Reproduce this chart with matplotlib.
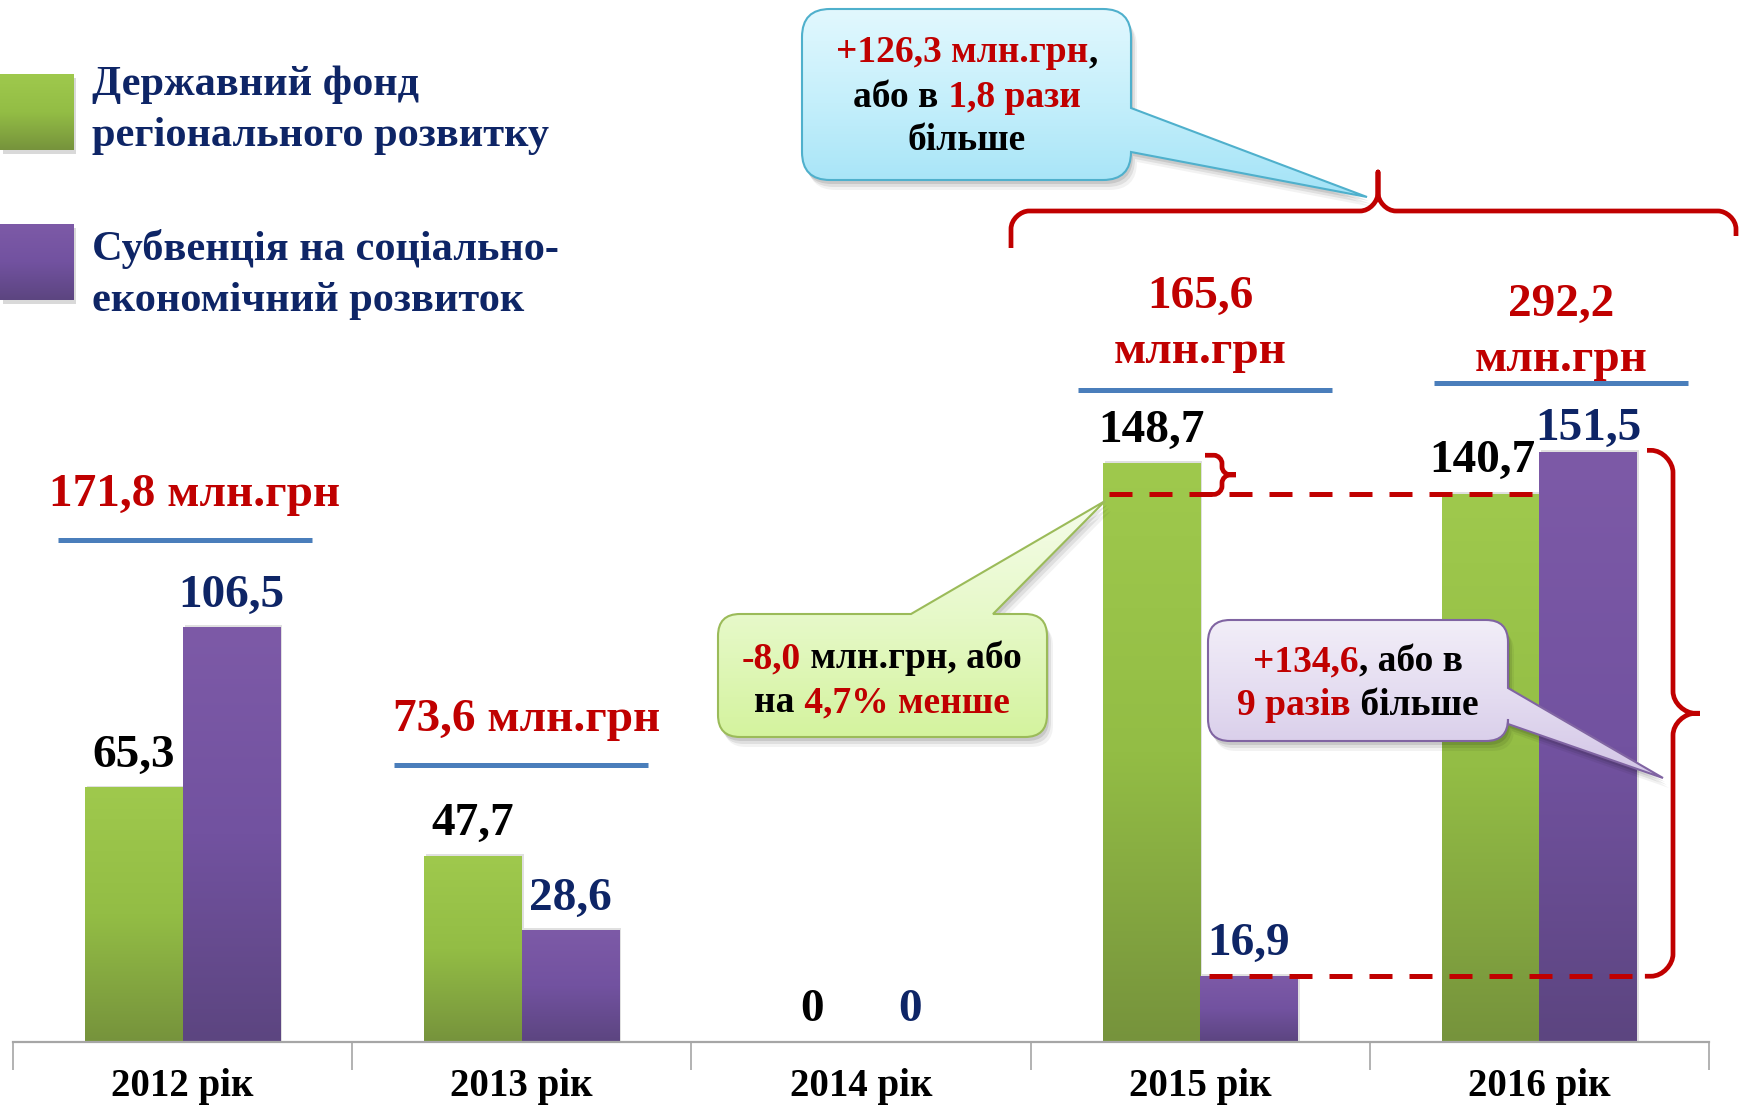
import numpy as np
import matplotlib
matplotlib.use('Agg')
import matplotlib.pyplot as plt
from matplotlib.path import Path
from matplotlib.patches import PathPatch, Rectangle
from matplotlib.colors import LinearSegmentedColormap
import matplotlib.transforms as mtransforms

# ---------------- data ----------------
years = ['2012 рік', '2013 рік', '2014 рік', '2015 рік', '2016 рік']
fund = [65.3, 47.7, 0.0, 148.7, 140.7]
subvention = [106.5, 28.6, 0.0, 16.9, 151.5]
fund_text = ['65,3', '47,7', '0', '148,7', '140,7']
subv_text = ['106,5', '28,6', '0', '16,9', '151,5']
totals_text = ['171,8 млн.грн', '73,6 млн.грн', '', '165,6\nмлн.грн', '292,2\nмлн.грн']
legend_text = ['Державний фонд\nрегіонального розвитку',
               'Субвенція на соціально-\nекономічний розвиток']
callout_top = [[('+126,3 млн.грн', 'r'), (',', 'k')],
               [('або в', 'k'), (' 1,8 рази', 'r')],
               [('більше', 'k')]]
callout_green = [[('-8,0', 'r'), (' млн.грн, або', 'k')],
                 [('на', 'k'), (' 4,7% менше', 'r')]]
callout_purple = [[('+134,6', 'r'), (', або в', 'k')],
                  [('9 разів', 'r'), (' більше', 'k')]]

# ---------------- style ----------------
SERIF = ['Liberation Serif', 'DejaVu Serif']
plt.rcParams['font.family'] = SERIF
plt.rcParams['font.weight'] = 'bold'
RED = '#c00000'
NAVY = '#0e2566'
BLUE_LINE = '#4a7ebb'
AXIS_GREY = '#a6a6a6'
COL = {'r': RED, 'k': '#000000', 'n': NAVY}

W, H = 1742, 1106
fig = plt.figure(figsize=(W / 100, H / 100), dpi=100)
fig.patch.set_facecolor('white')

PX_PER_UNIT = 3.892
ax = fig.add_axes([13 / W, (H - 1042) / H, 1696 / W, 1042 / H])

xpos = np.arange(len(years))
bw = 0.287
green_bars = ax.bar(xpos - bw / 2, fund, bw, color='none', zorder=2)
purple_bars = ax.bar(xpos + bw / 2, subvention, bw, color='none', zorder=2)

cm_green = LinearSegmentedColormap.from_list('g', ['#76933c', '#93bd45', '#9fc94d'])
cm_purple = LinearSegmentedColormap.from_list('p', ['#5c4580', '#7252a0', '#7d5aa7'])
grad = np.linspace(0, 1, 256).reshape(-1, 1)
for bars, cm in ((green_bars, cm_green), (purple_bars, cm_purple)):
    for rect in bars:
        h = rect.get_height()
        if h <= 0:
            continue
        x0 = rect.get_x()
        ax.add_patch(Rectangle((x0 + 0.006, 0), rect.get_width(), h + 0.6,
                               facecolor='#000000', alpha=0.12, zorder=1.5, lw=0))
        ax.imshow(grad, extent=(x0, x0 + rect.get_width(), 0, h), origin='lower',
                  aspect='auto', cmap=cm, zorder=2, interpolation='bilinear')

ax.set_xlim(-0.5, 4.5)
ax.set_ylim(0, 1042 / PX_PER_UNIT)

# value labels
fund_off = [(0, 21), (0, 21), (0, 21), (0, 21), (-8, 22)]
subv_off = [(0, 21), (0, 21), (0, 21), (0, 21), (0, 12)]
for i in range(len(years)):
    ax.annotate(fund_text[i], (xpos[i] - bw / 2, fund[i]), xytext=fund_off[i],
                textcoords='offset pixels', ha='center', va='baseline',
                fontsize=34, fontweight='bold', color='#000000', zorder=6)
    ax.annotate(subv_text[i], (xpos[i] + bw / 2, subvention[i]), xytext=subv_off[i],
                textcoords='offset pixels', ha='center', va='baseline',
                fontsize=34, fontweight='bold', color=NAVY, zorder=6)

# axis styling
for s in ('top', 'left', 'right'):
    ax.spines[s].set_visible(False)
ax.spines['bottom'].set_color(AXIS_GREY)
ax.spines['bottom'].set_linewidth(1.6)
ax.set_yticks([])
ax.set_xticks(xpos)
ax.set_xticklabels(years, fontsize=28, fontweight='bold', color='#000000')
ax.set_xticks(np.arange(-0.5, len(years), 1.0), minor=True)
ax.tick_params(axis='x', which='major', length=0, pad=19)
ax.tick_params(axis='x', which='minor', length=20, width=1.2, color=AXIS_GREY)
ax.patch.set_visible(False)

# dashed reference lines (data coordinates)
x_dash1_start = xpos[3] - bw + 0.017
x_dash1_end = xpos[4] + 0.016
x_dash2_start = xpos[3] + 0.025
x_dash2_end = xpos[4] + bw + 0.024
ax.plot([x_dash1_start, x_dash1_end], [fund[4], fund[4]], color=RED, lw=3.6,
        dashes=(4.6, 3.4), dash_capstyle='butt', zorder=5)
ax.plot([x_dash2_start, x_dash2_end], [subvention[3], subvention[3]], color=RED, lw=3.6,
        dashes=(4.6, 3.4), dash_capstyle='butt', zorder=5)


def to_px(xd, yd):
    d = ax.transData.transform((xd, yd))
    return d[0], H - d[1]


# ---------------- overlay in pixel coordinates ----------------
ax2 = fig.add_axes([0, 0, 1, 1], zorder=5)
ax2.patch.set_visible(False)
ax2.axis('off')


def grad_fill(path, colors, edge, lw=1.5, shadow=True):
    if shadow:
        for dx, dy, a in [(2, 4, 0.10), (4, 7, 0.08), (6, 10, 0.05)]:
            sp = path.transformed(mtransforms.Affine2D().translate(dx, dy))
            ax2.add_patch(PathPatch(sp, facecolor='#000000', alpha=a, lw=0, zorder=1))
    patch = PathPatch(path, facecolor='none', edgecolor=edge, lw=lw, zorder=3)
    ax2.add_patch(patch)
    ext = path.get_extents()
    cm = LinearSegmentedColormap.from_list('c', colors)
    im = ax2.imshow(grad, extent=(ext.x0, ext.x1, ext.y1, ext.y0), origin='upper',
                    aspect='auto', cmap=cm, zorder=2, interpolation='bilinear')
    im.set_clip_path(patch)


def callout_path(x0, y0, x1, y1, r, side, a, b, tip):
    L, C3 = Path.LINETO, Path.CURVE3
    v = [(x0 + r, y0)]
    c = [Path.MOVETO]
    if side == 'top':
        v += [(a, y0), tip, (b, y0)]
        c += [L, L, L]
    v += [(x1 - r, y0), (x1, y0), (x1, y0 + r)]
    c += [L, C3, C3]
    if side == 'right':
        v += [(x1, a), tip, (x1, b)]
        c += [L, L, L]
    v += [(x1, y1 - r), (x1, y1), (x1 - r, y1)]
    c += [L, C3, C3]
    v += [(x0 + r, y1), (x0, y1), (x0, y1 - r)]
    c += [L, C3, C3]
    v += [(x0, y0 + r), (x0, y0), (x0 + r, y0)]
    c += [L, C3, C3]
    v += [(x0 + r, y0)]
    c += [Path.CLOSEPOLY]
    return Path(v, c)


def brace_path(u0, u1, ut, vl, ve0, ve1, vt, r, vertical=False):
    se0 = np.sign(ve0 - vl)
    se1 = np.sign(ve1 - vl)
    st = np.sign(vt - vl)
    k = 0.45
    pts = [(u0, ve0), (u0, vl + se0 * r),
           (u0, vl + se0 * r * k), (u0 + r * (1 - k), vl), (u0 + r, vl),
           (ut - r, vl),
           (ut - r * k, vl), (ut, vl + st * r * (1 - k)), (ut, vl + st * r),
           (ut, vt), (ut, vl + st * r),
           (ut, vl + st * r * (1 - k)), (ut + r * k, vl), (ut + r, vl),
           (u1 - r, vl),
           (u1 - r * (1 - k), vl), (u1, vl + se1 * r * k), (u1, vl + se1 * r),
           (u1, ve1)]
    C4 = Path.CURVE4
    codes = [Path.MOVETO, Path.LINETO, C4, C4, C4, Path.LINETO, C4, C4, C4,
             Path.LINETO, Path.LINETO, C4, C4, C4, Path.LINETO, C4, C4, C4, Path.LINETO]
    if vertical:
        pts = [(p[1], p[0]) for p in pts]
    return Path(pts, codes)


def rich_line(xc, yb, segs, size):
    r = fig.canvas.get_renderer()
    texts, widths = [], []
    for s, c in segs:
        t = ax2.text(0, yb, s, color=COL[c], fontsize=size, fontweight='bold',
                     ha='left', va='baseline', zorder=6)
        widths.append(t.get_window_extent(renderer=r).width)
        texts.append(t)
    cur = xc - sum(widths) / 2
    for t, wdt in zip(texts, widths):
        t.set_x(cur)
        cur += wdt


# legend
legend_cms = [cm_green, cm_purple]
legend_y = [(74, 150), (224, 300)]
legend_base = [(95, 146), (260, 311)]
for i in range(2):
    y0, y1 = legend_y[i]
    ax2.add_patch(Rectangle((3, y0 + 4), 73, y1 - y0, facecolor='#000000', alpha=0.15,
                            lw=0, zorder=1))
    ax2.imshow(grad, extent=(0, 73, y1, y0), origin='lower', aspect='auto',
               cmap=legend_cms[i], zorder=2, interpolation='bilinear')
    for j, line in enumerate(legend_text[i].split('\n')):
        ax2.text(92, legend_base[i][j], line, fontsize=30.5, fontweight='bold',
                 color=NAVY, ha='left', va='baseline', zorder=6)

# group totals with blue underline
tot_x = [195, 527, None, 1200, 1561]
tot_base = [[506], [731], [], [308, 363], [316, 371]]
tot_line = [(58, 312, 540), (394, 648, 765), None, (1078, 1332, 390), (1434, 1688, 383)]
for i in range(len(years)):
    if not totals_text[i]:
        continue
    for j, line in enumerate(totals_text[i].split('\n')):
        ax2.text(tot_x[i], tot_base[i][j], line, fontsize=34, fontweight='bold',
                 color=RED, ha='center', va='baseline', zorder=6)
    lx0, lx1, ly = tot_line[i]
    ax2.plot([lx0, lx1], [ly, ly], color=BLUE_LINE, lw=3.6, solid_capstyle='butt', zorder=4)

# callouts
p_top = callout_path(802, 9, 1131, 180, 28, 'right', 108, 152, (1367, 197))
grad_fill(p_top, ['#e2f8fe', '#c4effb', '#a3e3f7'], '#4fb0cc')
for segs, yb in zip(callout_top, [62, 107, 150]):
    rich_line(967, yb, segs, 27)

p_green = callout_path(718, 614, 1047, 737, 22, 'top', 911, 993, (1105, 501))
grad_fill(p_green, ['#f5fce9', '#e6f9c8', '#d4f39e'], '#9bbb59')
for segs, yb in zip(callout_green, [668, 712]):
    rich_line(882, yb, segs, 27)

p_purple = callout_path(1208, 620, 1508, 741, 22, 'right', 688, 724, (1663, 778))
grad_fill(p_purple, ['#f2eef8', '#e3dbf0', '#d2c5e6'], '#8064a2')
for segs, yb in zip(callout_purple, [671, 715]):
    rich_line(1358, yb, segs, 27)

# braces
bt = brace_path(1011, 1736, 1378, 211, 248, 236, 172, 18)
ax2.add_patch(PathPatch(bt, facecolor='none', edgecolor=RED, lw=3.4, zorder=4,
                        capstyle='butt', joinstyle='round'))

_, y_top15 = to_px(0, fund[3])
_, y_lvl16 = to_px(0, fund[4])
bs = brace_path(y_top15 - 8, y_lvl16, (y_top15 - 8 + y_lvl16) / 2, 1222, 1205, 1205, 1236, 8,
                vertical=True)
ax2.add_patch(PathPatch(bs, facecolor='none', edgecolor=RED, lw=3.4, zorder=4))

_, y_top16 = to_px(0, subvention[4])
_, y_low15 = to_px(0, subvention[3])
xe2, _ = to_px(x_dash2_end, 0)
bb = brace_path(y_top16 - 2, y_low15, (y_top16 - 2 + y_low15) / 2, 1673, 1647, xe2, 1700, 22,
                vertical=True)
ax2.add_patch(PathPatch(bb, facecolor='none', edgecolor=RED, lw=3.4, zorder=4))

ax2.set_xlim(0, W)
ax2.set_ylim(H, 0)

fig.savefig('out.png', dpi=100, facecolor='white')
